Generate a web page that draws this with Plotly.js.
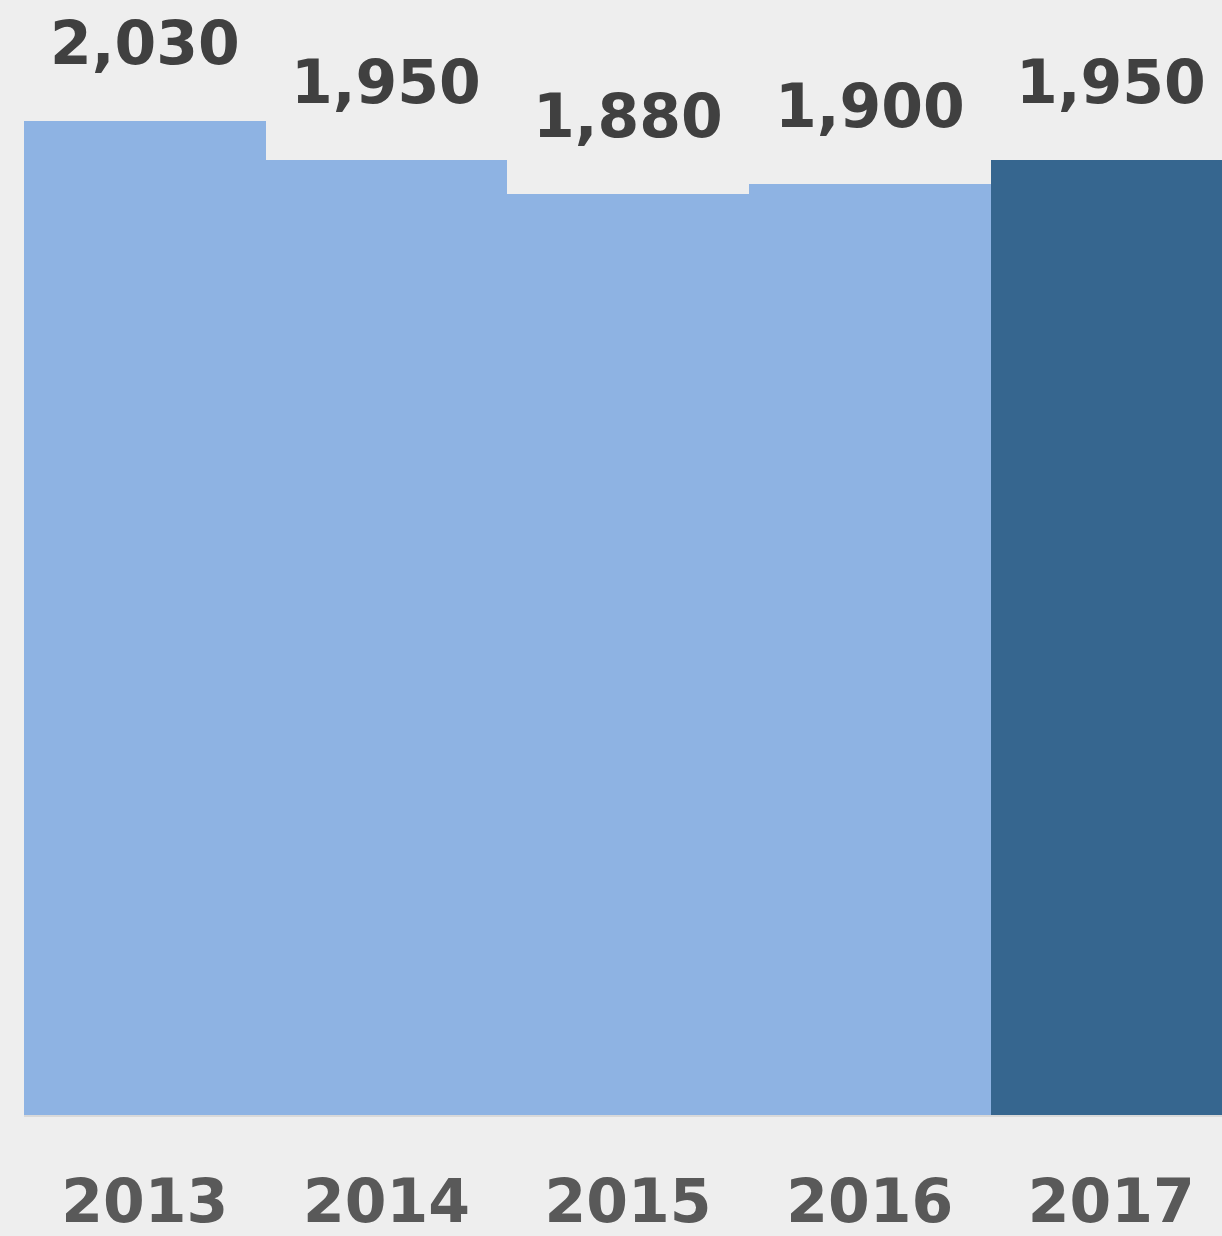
<!DOCTYPE html>
<html>
<head>
<meta charset="utf-8">
<script src="https://cdn.plot.ly/plotly-3.0.1.min.js"></script>
<style>html,body{margin:0;padding:0;background:#EEEEEE;overflow:hidden;}</style>
</head>
<body>
<div id="chart" style="width:1222px;height:1236px;"></div>
<script>
const years = ['2013', '2014', '2015', '2016', '2017'];
const values = [2030, 1950, 1880, 1900, 1950];
const labels = ['2,030', '1,950', '1,880', '1,900', '1,950'];
const colors = ['#8EB3E3', '#8EB3E3', '#8EB3E3', '#8EB3E3', '#36668F'];

const trace = {
  type: 'bar',
  x: years,
  y: values,
  marker: {color: colors, line: {width: 0}},
  width: 1,
  hoverinfo: 'none'
};

const annotations = years.map((yr, i) => ({
  x: i, y: values[i], xref: 'x', yref: 'y',
  text: labels[i], showarrow: false,
  xanchor: 'center', yanchor: 'middle', yshift: 78,
  font: {family: 'DejaVu Sans', size: 60, color: '#404040', weight: 700}
}));

const layout = {
  width: 1222, height: 1236,
  margin: {l: 24, r: 0, t: 0, b: 121, pad: 0},
  paper_bgcolor: '#EEEEEE', plot_bgcolor: '#EEEEEE',
  bargap: 0,
  showlegend: false,
  xaxis: {
    type: 'category',
    range: [-0.5, 4.458],
    showgrid: false, zeroline: false,
    showline: true, linecolor: '#D9D9D9', linewidth: 2,
    ticks: '', ticklabelstandoff: 33,
    tickfont: {family: 'DejaVu Sans', size: 60, color: '#595959', weight: 700},
    fixedrange: true
  },
  yaxis: {
    range: [0, 2276],
    showgrid: false, zeroline: false, showline: false,
    showticklabels: false, ticks: '',
    fixedrange: true
  },
  annotations: annotations
};

Plotly.newPlot('chart', [trace], layout, {displayModeBar: false});
</script>
</body>
</html>
